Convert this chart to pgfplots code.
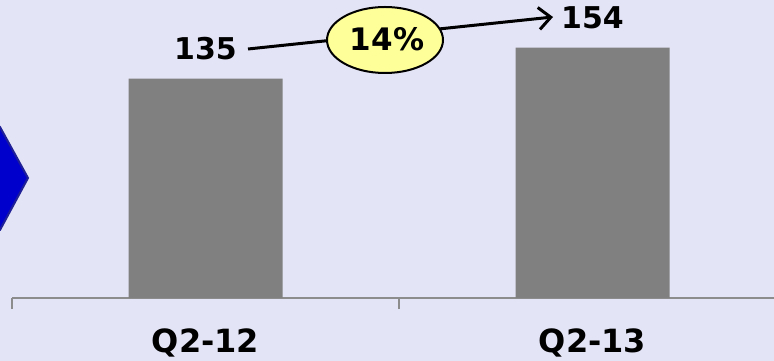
\documentclass[border=0pt]{standalone}
\usepackage{pgfplots}
\pgfplotsset{compat=1.18}
\usepackage{fontspec}
\usetikzlibrary{arrows.meta}
\setmainfont{DejaVu Sans}
\newfontfamily\labfont{DejaVu Sans Bold}

\definecolor{bg}{RGB}{228,228,247}
\definecolor{barGray}{RGB}{128,128,128}
\definecolor{axGray}{RGB}{140,140,140}
\definecolor{chevBlue}{RGB}{0,0,204}
\definecolor{chevEdge}{RGB}{32,32,150}
\definecolor{pctYellow}{RGB}{255,255,153}

\begin{document}
\begin{tikzpicture}[x=1pt,y=1pt]
  \useasboundingbox (0,0) rectangle (774,361);
  \clip (0,0) rectangle (774,361);
  \fill[bg] (0,0) rectangle (774,361);
  % chevron entering from the left edge
  \filldraw[fill=chevBlue, draw=chevEdge, line width=2pt]
    (-40,234) -- (0,234) -- (28,183) -- (0,131) -- (-40,131) -- cycle;

  \begin{axis}[
    at={(12pt,63pt)}, anchor=south west,
    scale only axis, width=762pt, height=298pt,
    xmin=-0.5, xmax=1.469, ymin=0, ymax=183.3,
    clip=false,
    axis y line=none,
    axis x line*=bottom,
    x axis line style={axGray, line width=1.5pt},
    xtick={-0.5,0.5,1.5}, xticklabels={},
    xtick align=outside,
    major tick length=11pt,
    xtick style={axGray, line width=1.5pt},
    extra x ticks={0,1},
    extra x tick labels={Q2-12,Q2-13},
    extra x tick style={major tick length=0pt},
    xticklabel style={font=\labfont\fontsize{32}{32}\selectfont, anchor=base, yshift=-55pt},
    ybar, bar width=154pt,
    nodes near coords={\labfont\fontsize{30}{30}\selectfont\pgfmathprintnumber[assume math mode=true]{\pgfplotspointmeta}},
    every node near coord/.append style={text=black, anchor=base, yshift=19pt},
  ]
    \addplot[fill=barGray, draw=none] coordinates {(0,135) (1,154)};
  \end{axis}

  % growth arrow with percentage badge
  \draw[line width=3pt, -{Straight Barb[length=12pt, width=22pt, line width=3pt]}]
    (248,312) -- (553,344);
  \filldraw[fill=pctYellow, draw=black, line width=2pt] (385,321) ellipse [x radius=58, y radius=33];
  \node[anchor=base, inner sep=0pt, font=\labfont\fontsize{31}{31}\selectfont] at (387,310) {14\%};
\end{tikzpicture}
\end{document}
